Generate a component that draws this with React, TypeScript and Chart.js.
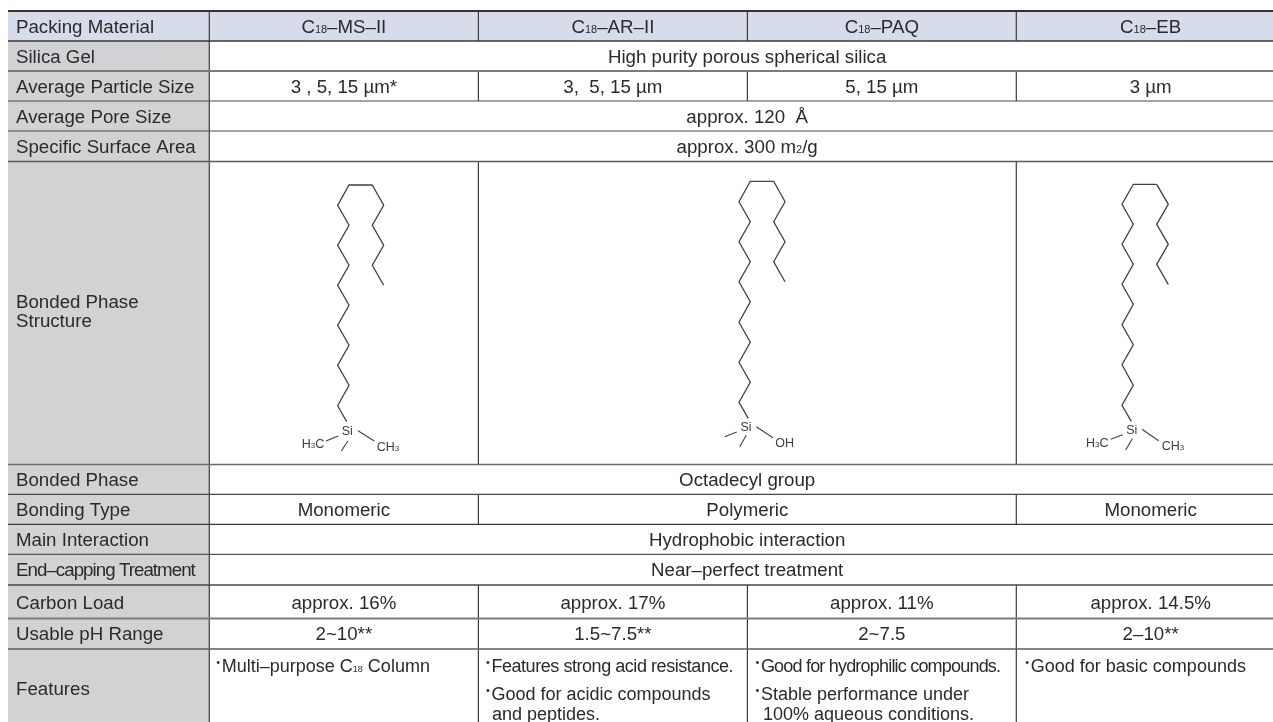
import React, { useEffect, useRef } from "react";
import { Chart, registerables } from "chart.js";

Chart.register(...registerables);

// ---------- table content ----------
const rowLabels = [
  ["Packing Material"],
  ["Silica Gel"],
  ["Average Particle Size"],
  ["Average Pore Size"],
  ["Specific Surface Area"],
  ["Bonded Phase", "Structure"],
  ["Bonded Phase"],
  ["Bonding Type"],
  ["Main Interaction"],
  ["End–capping Treatment"],
  ["Carbon Load"],
  ["Usable pH Range"],
  ["Features"],
];
const packingRow = ["C_18_–MS–II", "C_18_–AR–II", "C_18_–PAQ", "C_18_–EB"];
const silicaRow = ["High purity porous spherical silica"];
const particleRow = ["3 , 5, 15 µm*", "3,  5, 15 µm", "5, 15 µm", "3 µm"];
const poreRow = ["approx. 120  Å"];
const surfaceRow = ["approx. 300 m_2_/g"];
const structureRow = ["", "", ""];
const phaseRow = ["Octadecyl group"];
const bondingRow = ["Monomeric", "Polymeric", "Monomeric"];
const interactionRow = ["Hydrophobic interaction"];
const cappingRow = ["Near–perfect treatment"];
const carbonRow = ["approx. 16%", "approx. 17%", "approx. 11%", "approx. 14.5%"];
const phRow = ["2~10**", "1.5~7.5**", "2~7.5", "2–10**"];
const featureLines = [
  ["•Multi–purpose C_18_ Column"],
  ["•Features strong acid resistance.", "•Good for acidic compounds", "and peptides."],
  ["•Good for hydrophilic compounds.", "•Stable performance under", "100% aqueous conditions."],
  ["•Good for basic compounds"],
];
const bodyRows = [
  packingRow, silicaRow, particleRow, poreRow, surfaceRow, structureRow,
  phaseRow, bondingRow, interactionRow, cappingRow, carbonRow, phRow,
];
const rowSpans = [
  [1, 1, 1, 1], [4], [1, 1, 1, 1], [4], [4], [1, 2, 1],
  [4], [1, 2, 1], [4], [4], [1, 1, 1, 1], [1, 1, 1, 1], [1, 1, 1, 1],
];

// ---------- grid ----------
const rowEdges = [11, 41, 71, 101, 131, 161.5, 464.5, 494.3, 524.4, 554.4, 585, 618.6, 649, 730];
const colEdges = [8, 209.3, 478.4, 747.4, 1016.3, 1285];
const ruleColors = ["#333333", "#3a3a3a", "#7b7b7b", "#484848", "#484848", "#5a5a5a", "#6a6a6a", "#484848", "#3a3a3a", "#555555", "#484848", "#7b7b7b", "#5c5c5c"];
const ruleWidths = [2, 1.6, 2, 1.2, 1.2, 1.5, 1.5, 1.2, 1.3, 1.2, 1.3, 2, 1.5];

// ---------- bonded-phase skeletal formulae ----------
const msChainX = [372.3, 349, 337.7, 349, 337.7, 349, 337.7, 349, 337.7, 349, 337.7, 349, 337.7, 346.7];
const msChainY = [185, 185, 205.3, 225.3, 245.3, 265.3, 285.3, 305.3, 325.3, 345.3, 365.3, 385.3, 405.7, 421.7];
const msTailX = [372.3, 383.7, 372.3, 383.7, 372.3, 383.7];
const msTailY = [185, 205.3, 225.3, 245.3, 265.3, 285.3];
const msBonds = [[[338.3, 436], [326, 441]], [[348, 440.7], [341.3, 451]], [[358, 430.7], [374.3, 441]]];

const arChainX = [773.7, 750.3, 739, 750.3, 739, 750.3, 739, 750.3, 739, 750.3, 739, 750.3, 739, 748.3];
const arChainY = [181.3, 181.3, 201.7, 221.7, 241.7, 261.7, 281.7, 301.7, 322.3, 342.3, 362.3, 382.3, 402.3, 418.3];
const arTailX = [773.7, 785, 773.7, 785, 773.7, 785];
const arTailY = [181.3, 201.7, 221.7, 241.7, 261.7, 281.7];
const arBonds = [[[736.7, 432], [724.7, 436.7]], [[746.3, 435.3], [739.7, 446.7]], [[756.3, 426.7], [773, 437.7]]];

const ebChainX = [1156.7, 1133.3, 1122, 1133.3, 1122, 1133.3, 1122, 1133.3, 1122, 1133.3, 1122, 1133.3, 1122, 1131.3];
const ebChainY = [184.3, 184.3, 204.3, 224.3, 244.3, 264.3, 284.3, 304.3, 324.7, 344.7, 364.7, 385.3, 405.3, 421.3];
const ebTailX = [1156.7, 1168.3, 1156.7, 1168.3, 1156.7, 1168.3];
const ebTailY = [184.3, 204.3, 224.3, 244.3, 264.3, 284.3];
const ebBonds = [[[1122.7, 434.7], [1110.7, 439.3]], [[1132.3, 438.7], [1125.7, 450]], [[1142, 429.3], [1158.7, 440.7]]];

const atomLabels: [string, number, number][] = [
  ["Si", 347.3, 435],
  ["H_3_C", 301.7, 447.5],
  ["CH_3_", 376.7, 451],
  ["Si", 746, 431],
  ["OH", 775.3, 447],
  ["Si", 1131.7, 433.5],
  ["H_3_C", 1086, 447],
  ["CH_3_", 1161.7, 450],
];

// ---------- drawing constants ----------
const FONT = '"Liberation Sans", Arial, sans-serif';
const BODY_SIZE = 18.7;
const FEATURE_SIZE = 18;
const TEXT_COLOR = "#2a2a2a";
const baselines = [32.7, 63.3, 92.7, 122.7, 152.7, 0, 485.7, 516, 545.7, 576.3, 608.7, 640.3, 695];
const structureBaselines = [308, 326.5];
const featureBaselines = [671.5, 700, 719.5];
const featureOffsets = [[7], [7.5, 7.5, 13.5], [8, 8, 15.5], [9]];
const tracking: Record<string, number> = {
  "End–capping Treatment": -0.95,
  "Features strong acid resistance.": -0.45,
  "Good for hydrophilic compounds.": -0.8,
};

function drawRich(ctx: CanvasRenderingContext2D, text: string, x: number, y: number, size: number, subSize: number, align: "left" | "center") {
  const parts = text.split("_");
  ctx.textAlign = "left";
  ctx.textBaseline = "alphabetic";
  const widths = parts.map((p, i) => {
    ctx.font = `${i % 2 ? subSize : size}px ${FONT}`;
    return ctx.measureText(p).width;
  });
  let cx = align === "center" ? x - widths.reduce((a, b) => a + b, 0) / 2 : x;
  parts.forEach((p, i) => {
    if (!p) return;
    ctx.font = `${i % 2 ? subSize : size}px ${FONT}`;
    ctx.fillText(p, cx, y);
    cx += widths[i];
  });
}

const tablePlugin = {
  id: "tableText",
  afterDatasetsDraw(chart: any) {
    const { ctx, scales } = chart;
    const px = (v: number) => scales.x.getPixelForValue(v);
    const py = (v: number) => scales.y.getPixelForValue(v);
    ctx.save();
    ctx.fillStyle = TEXT_COLOR;
    rowLabels.forEach((lines, r) => {
      lines.forEach((label, i) => {
        const base = lines.length > 1 ? structureBaselines[i] : baselines[r];
        (ctx as any).letterSpacing = `${tracking[label] ?? 0}px`;
        drawRich(ctx, label, px(16), py(base), BODY_SIZE, 11, "left");
        (ctx as any).letterSpacing = "0px";
      });
    });
    bodyRows.forEach((cells, r) => {
      let col = 1;
      cells.forEach((cell, c) => {
        const span = rowSpans[r][c];
        const mid = (colEdges[col] + colEdges[col + span]) / 2;
        if (cell) drawRich(ctx, cell, px(mid), py(baselines[r]), BODY_SIZE, 11, "center");
        col += span;
      });
    });
    featureLines.forEach((lines, c) => {
      lines.forEach((text, i) => {
        const x = colEdges[c + 1] + featureOffsets[c][i];
        const y = featureBaselines[i];
        if (text.startsWith("•")) {
          ctx.font = `11px ${FONT}`;
          ctx.textAlign = "left";
          ctx.fillText("•", px(x), py(y - 6));
          const body = text.slice(1);
          (ctx as any).letterSpacing = `${tracking[body] ?? 0}px`;
          drawRich(ctx, body, px(x + 5.5), py(y), FEATURE_SIZE, 9, "left");
          (ctx as any).letterSpacing = "0px";
        } else {
          drawRich(ctx, text, px(x), py(y), FEATURE_SIZE, 9, "left");
        }
      });
    });
    ctx.fillStyle = "#3c3c3c";
    atomLabels.forEach(([t, x, y]) => {
      drawRich(ctx, t, px(x), py(y), 12.5, 8, t === "Si" ? "center" : "left");
    });
    ctx.restore();
  },
};

function toPoints(xs: number[], ys: number[]) {
  return xs.map((x, i) => ({ x, y: ys[i] }));
}
function line(data: { x: number; y: number }[], color: string, width: number, order = 1) {
  return {
    type: "line",
    data,
    borderColor: color,
    borderWidth: width,
    pointRadius: 0,
    showLine: true,
    fill: false,
    tension: 0,
    borderJoinStyle: "miter",
    order,
  };
}
function band(x0: number, x1: number, y0: number, y1: number, color: string) {
  return {
    type: "line",
    data: toPoints([x0, x1, x1, x0, x0], [y0, y0, y1, y1, y0]),
    borderWidth: 0,
    borderColor: "rgba(0,0,0,0)",
    backgroundColor: color,
    pointRadius: 0,
    showLine: true,
    fill: "shape",
    tension: 0,
    order: 5,
  };
}

function buildDatasets() {
  const last = colEdges[colEdges.length - 1];
  const ds: any[] = [
    band(colEdges[0], last, rowEdges[0], rowEdges[1], "#d7dcea"),
    band(colEdges[0], colEdges[1], rowEdges[1], rowEdges[rowEdges.length - 1], "#d1d2d4"),
  ];
  rowSpans.forEach((spans, r) => {
    let col = 1;
    const color = "#3c3c3c";
    ds.push(line(toPoints([colEdges[1], colEdges[1]], [rowEdges[r], rowEdges[r + 1]]), color, 1.2, 2));
    spans.forEach((s, i) => {
      col += s;
      if (i < spans.length - 1) {
        ds.push(line(toPoints([colEdges[col], colEdges[col]], [rowEdges[r], rowEdges[r + 1]]), color, 1.2, 2));
      }
    });
  });
  ruleColors.forEach((c, i) => {
    ds.push(line(toPoints([colEdges[0], last], [rowEdges[i], rowEdges[i]]), c, ruleWidths[i], 1));
  });
  const mol = "#404040";
  ([
    [msChainX, msChainY, msTailX, msTailY, msBonds],
    [arChainX, arChainY, arTailX, arTailY, arBonds],
    [ebChainX, ebChainY, ebTailX, ebTailY, ebBonds],
  ] as any[]).forEach(([cx, cy, tx, ty, bonds]) => {
    ds.push(line(toPoints(cx, cy), mol, 1.3));
    ds.push(line(toPoints(tx, ty), mol, 1.3));
    bonds.forEach((b: number[][]) => {
      ds.push(line(b.map(([x, y]) => ({ x, y })), mol, 1.1));
    });
  });
  return ds;
}

export default function App() {
  const ref = useRef<HTMLCanvasElement>(null);
  useEffect(() => {
    document.body.style.margin = "0";
    const chart = new Chart(ref.current as HTMLCanvasElement, {
      type: "scatter",
      data: { datasets: buildDatasets() },
      options: {
        animation: false,
        responsive: false,
        layout: { padding: 0 },
        scales: {
          x: { type: "linear", display: false, min: 0, max: 1273 },
          y: { type: "linear", display: false, min: 0, max: 722, reverse: true },
        },
        plugins: { legend: { display: false }, tooltip: { enabled: false }, title: { display: false } },
      },
      plugins: [tablePlugin],
    } as any);
    return () => chart.destroy();
  }, []);
  return <canvas ref={ref} width={1273} height={722} style={{ display: "block" }} />;
}
